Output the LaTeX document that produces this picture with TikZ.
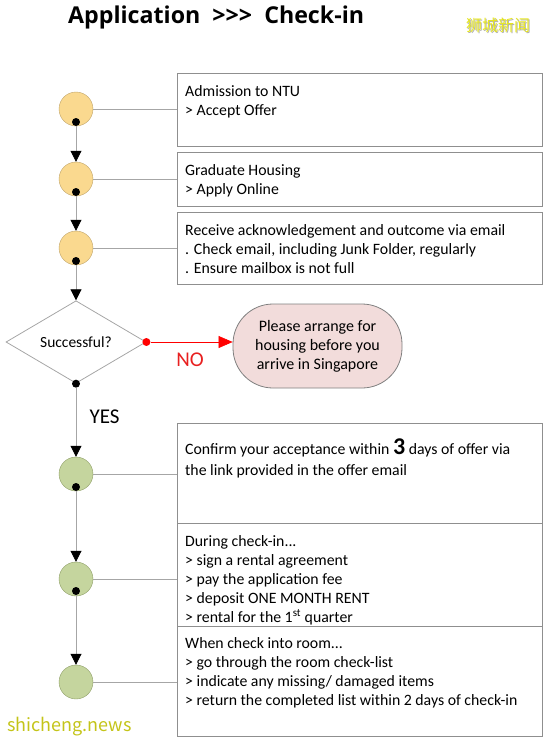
\documentclass[tikz,border=0pt]{standalone}
\usepackage{fontspec}
\setmainfont{Carlito}
\newfontfamily\titlefont{Open Sans}
\newfontfamily\cjk{Noto Sans CJK SC}
\usetikzlibrary{arrows.meta,shapes.geometric}
\definecolor{stepyellow}{HTML}{FAD98F}
\definecolor{stepyellowline}{HTML}{BFA46A}
\definecolor{stepgreen}{HTML}{C5D59E}
\definecolor{stepgreenline}{HTML}{8E9E66}
\definecolor{pillpink}{HTML}{F2DCDB}
\definecolor{linegray}{HTML}{A6A6A6}
\definecolor{boxgray}{HTML}{8F8F8F}
\definecolor{nored}{HTML}{E82020}
\definecolor{wmyellow}{HTML}{E6E61E}
\tikzset{
  bodytext/.style={font=\fontsize{15.8}{19}\selectfont},
  stepyel/.style={circle,draw=stepyellowline,fill=stepyellow,minimum size=34pt,inner sep=0pt},
  stepgrn/.style={circle,draw=stepgreenline,fill=stepgreen,minimum size=34pt,inner sep=0pt},
  knot/.style={circle,fill=black,minimum size=8pt,inner sep=0pt},
  infobox/.style={draw=boxgray,line width=0.8pt,minimum width=365pt,inner sep=0pt},
  note/.style={bodytext,anchor=north west,align=left,inner sep=0pt},
  link/.style={draw=linegray,line width=0.8pt},
  flow/.style={draw=linegray,line width=0.8pt,-{Triangle[length=11pt,width=11pt,color=black]}},
}
\begin{document}
\begin{tikzpicture}[x=1pt,y=-1pt]
\useasboundingbox (0,0) rectangle (549,742);

% title and watermarks
\node[font=\titlefont\bfseries\fontsize{23.2}{23.2}\selectfont,anchor=west,inner sep=0pt] (title) at (68,17) {Application~~>{}>{}>~~Check-in};
\node[font=\cjk\fontsize{16}{16}\selectfont,text=gray!60,inner sep=0pt] (wmcnshadow) at (499,26) {狮城新闻};
\node[font=\cjk\fontsize{16}{16}\selectfont,text=wmyellow,inner sep=0pt] (wmcn) at (498,25) {狮城新闻};
\node[font=\cjk\fontsize{18}{18}\selectfont,text=wmyellow!85!black,anchor=west,inner sep=0pt] (wmen) at (7,727) {shicheng.news};

% boxes
\node[infobox,minimum height=73pt] (b1) at (359.5,109.5) {};
\node[infobox,minimum height=54pt] (b2) at (359.5,179) {};
\node[infobox,minimum height=72pt] (b3) at (359.5,248) {};
\node[infobox,minimum height=100pt] (b4) at (359.5,473) {};
\node[infobox,minimum height=103pt] (b5) at (359.5,574.5) {};
\node[infobox,minimum height=110pt] (b6) at (359.5,681) {};

\node[note] (t1) at (185,85) {Admission to NTU\\> Accept Offer};
\node[note] (t2) at (185,164) {Graduate Housing\\> Apply Online};
\node[note] (t3) at (185,224) {Receive acknowledgement and outcome via email\\. Check email, including Junk Folder, regularly\\. Ensure mailbox is not full};
\node[note,font=\fontsize{15.8}{21}\selectfont] (t4) at (185,438.5) {Confirm your acceptance within {\bfseries\fontsize{24}{24}\selectfont 3} days of offer via\\the link provided in the offer email};
\node[note] (t5) at (185,535) {During check-in...\\> sign a rental agreement\\> pay the application fee\\> deposit ONE MONTH RENT\\> rental for the 1\textsuperscript{st} quarter};
\node[note] (t6) at (185,637) {When check into room...\\> go through the room check-list\\> indicate any missing/ damaged items\\> return the completed list within 2 days of check-in};

% steps
\node[stepyel] (c1) at (76,109) {};
\node[stepyel] (c2) at (76,179) {};
\node[stepyel] (c3) at (76,248) {};
\node[diamond,draw=linegray,line width=0.8pt,minimum width=140pt,minimum height=80pt,inner sep=0pt,font=\fontsize{15.5}{15.5}\selectfont] (q) at (76,342) {Successful?};
\node[draw=gray,line width=0.8pt,fill=pillpink,rounded corners=40pt,minimum width=169pt,minimum height=84pt,inner sep=0pt,align=center,font=\fontsize{16}{19}\selectfont] (pill) at (317.5,346) {Please arrange for\\housing before you\\arrive in Singapore};
\node[stepgrn] (c4) at (76,474) {};
\node[stepgrn] (c5) at (76,579) {};
\node[stepgrn] (c6) at (76,682) {};

\node[knot] (d1) at (76,122) {};
\node[knot] (d2) at (76,192) {};
\node[knot] (d3) at (76,261) {};
\node[knot] (qd) at (q.south) {};
\node[knot,fill=red] (qr) at (q.east) {};
\node[knot] (d4) at (76,487) {};
\node[knot] (d5) at (76,591) {};

% connectors
\draw[link] (c1.east) -- (c1.east -| b1.west);
\draw[link] (c2.east) -- (c2.east -| b2.west);
\draw[link] (c3.east) -- (c3.east -| b3.west);
\draw[link] (c4.east) -- (c4.east -| b4.west);
\draw[link] (c5.east) -- (c5.east -| b5.west);
\draw[link] (c6.east) -- (c6.east -| b6.west);
\draw[flow] (d1) -- (c2);
\draw[flow] (d2) -- (c3);
\draw[flow] (d3) -- (q);
\draw[flow] (qd) -- (c4);
\draw[flow] (d4) -- (c5);
\draw[flow] (d5) -- (c6);
\draw[red,line width=0.6pt,-{Triangle[length=14pt,width=12pt]}] (qr) -- (qr -| pill.west);

\node[text=nored,font=\fontsize{21}{21}\selectfont,inner sep=0pt] (no) at (190,360) {NO};
\node[font=\fontsize{21}{21}\selectfont,inner sep=0pt] (yes) at (104.5,417) {YES};
\end{tikzpicture}
\end{document}
